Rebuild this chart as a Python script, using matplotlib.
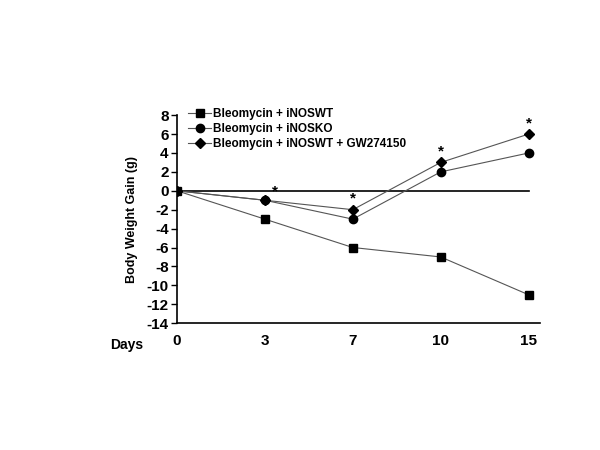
import matplotlib
matplotlib.use("Agg")
import matplotlib.pyplot as plt

days = ["0", "3", "7", "10", "15"]
wt = [0, -3, -6, -7, -11]
ko = [0, -1, -3, 2, 4]
gw = [0, -1, -2, 3, 6]
star_pos = [1, 2, 3, 4]
star_val = [-1, -2, 3, 6]

plt.rcParams['font.family'] = ['Liberation Sans', 'DejaVu Sans']
plt.rcParams['font.weight'] = 'bold'
plt.rcParams['axes.unicode_minus'] = False

fig = plt.figure(figsize=(6, 4.5), dpi=100)
ax = fig.add_axes([0.295, 0.282, 0.605, 0.462])

x = list(range(len(days)))
ax.axhline(0, xmin=0, xmax=4 / 4.13, color='black', lw=1.2)
ax.plot(x, wt, color='#555555', lw=0.8, marker='s', ms=5.5, mfc='black', mec='black', label='Bleomycin + iNOSWT')
ax.plot(x, ko, color='#555555', lw=0.8, marker='o', ms=6, mfc='black', mec='black', label='Bleomycin + iNOSKO')
ax.plot(x, gw, color='#555555', lw=0.8, marker='D', ms=5.5, mfc='black', mec='black', label='Bleomycin + iNOSWT + GW274150')

for i, (p, v) in enumerate(zip(star_pos, star_val)):
    if i == 0:
        ax.text(p + 0.12, v + 0.2, '*', ha='center', va='bottom', fontsize=11)
    else:
        ax.text(p, v + 0.4, '*', ha='center', va='bottom', fontsize=11)

ax.set_xlim(0, 4.13)
ax.set_ylim(-14, 8)
ax.set_yticks(range(-14, 9, 2))
ax.set_xticks(x)
ax.set_xticklabels(days)
ax.tick_params(axis='x', length=0, pad=8, labelsize=11)
ax.tick_params(axis='y', length=4, width=1, labelsize=11, pad=2)
for s in ['top', 'right']:
    ax.spines[s].set_visible(False)
ax.spines['left'].set_linewidth(1.2)
ax.spines['bottom'].set_linewidth(1.2)
ax.set_ylabel('Body Weight Gain (g)', fontsize=9, fontweight='bold', labelpad=6)
fig.text(0.183, 0.233, 'Days', fontsize=10, fontweight='bold', ha='left', va='center')

ax.legend(loc='upper left', bbox_to_anchor=(0.306, 0.771), bbox_transform=fig.transFigure,
          frameon=False, fontsize=8.5, handlelength=1.9, labelspacing=0.25,
          handletextpad=0.15, borderaxespad=0)

fig.savefig('out.png', dpi=100, facecolor='white')
